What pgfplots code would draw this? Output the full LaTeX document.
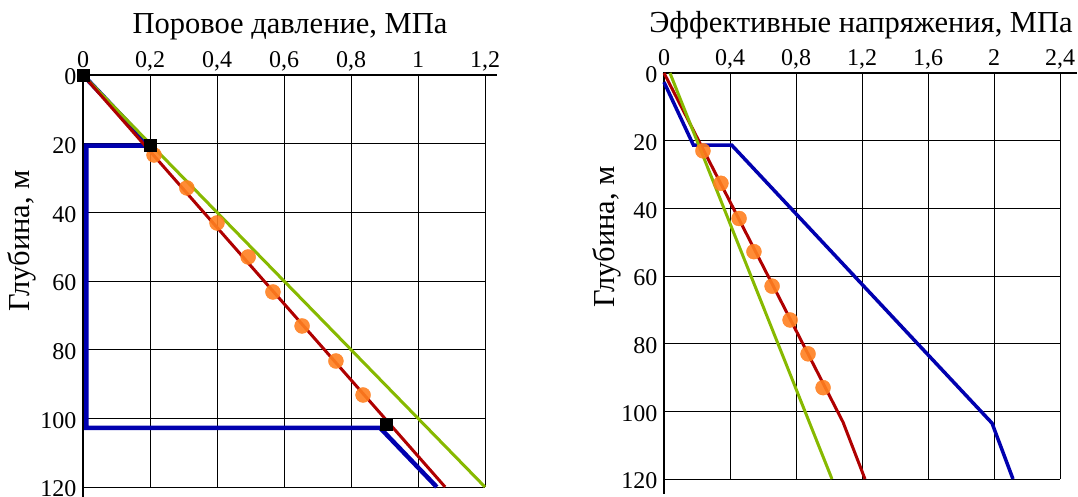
\documentclass[border=0pt]{standalone}
\usepackage{fontspec}
\setmainfont{Liberation Serif}
\usepackage{pgfplots}
\pgfplotsset{compat=1.18}
\definecolor{cblue}{RGB}{0,0,175}
\definecolor{cred}{RGB}{175,0,0}
\definecolor{cgreen}{RGB}{135,185,0}
\definecolor{corange}{RGB}{255,128,32}
\begin{document}
\begin{tikzpicture}[x=1pt,y=1pt]
\useasboundingbox (0,0) rectangle (1078,497);
\pgfplotsset{myax/.style={scale only axis, y dir=reverse, ymin=0, ymax=120,
  ytick={0,20,40,60,80,100,120}, grid=major,
  major grid style={black,line width=0.9pt},
  axis line style={draw=none}, major tick length=0pt,
  xticklabel pos=right,
  tick label style={font=\fontsize{24}{26}\selectfont},
  xticklabel style={anchor=base, yshift=7pt},
  yticklabel style={xshift=-3pt, yshift=-2pt},
  /pgf/number format/assume math mode=true,
  clip=false}}
% left
\begin{axis}[myax, at={(284pt,216pt)}, anchor=center, width=402pt, height=412pt,
  xmin=0, xmax=1.2, xtick={0,0.2,0.4,0.6,0.8,1,1.2},
  xticklabels={0,{0,2},{0,4},{0,6},{0,8},1,{1,2}}]
\draw[black,line width=1.8pt] (axis cs:0,122.9) -- (axis cs:0,0) -- (axis cs:1.235,0);
\addplot[cblue, line width=4.5pt, line join=miter] coordinates {(0,0) (0.2,20.6) (0.01,20.6) (0.01,102.8) (0.887,102.8) (1.056,120)};
\addplot[cgreen, line width=3pt] coordinates {(0,0) (1.2,120)};
\addplot[cred, line width=3pt] coordinates {(0,0) (1.081,120)};
\addplot[only marks, mark=*, mark size=7.5pt, corange, opacity=0.9, mark options={draw=none}] coordinates {
(0.212,23.3) (0.310,32.9) (0.400,43.1) (0.493,53.0) (0.567,63.2) (0.654,73.1) (0.755,83.3) (0.836,93.2)};
\addplot[only marks, mark=square*, mark size=6pt, black] coordinates {(0,0) (0.2,20.4) (0.904,101.6)};
\end{axis}
% right
\begin{axis}[myax, at={(862pt,221pt)}, anchor=center, width=396pt, height=406pt,
  xmin=0, xmax=2.4, xtick={0,0.4,0.8,1.2,1.6,2,2.4},
  xticklabels={0,{0,4},{0,8},{1,2},{1,6},2,{2,4}}]
\draw[black,line width=1.8pt] (axis cs:0,124.4) -- (axis cs:0,0) -- (axis cs:2.505,0);
\addplot[cblue, line width=3.5pt] coordinates {(0,2.7) (0.178,21.3) (0.41,21.3) (1.988,103.5) (2.115,120)};
\addplot[cred, line width=3pt] coordinates {(0,0) (1.085,103.2) (1.218,120)};
\addplot[cgreen, line width=3pt] coordinates {(0.036,0) (1.018,120)};
\addplot[only marks, mark=*, mark size=7.5pt, corange, opacity=0.9, mark options={draw=none}] coordinates {
(0.236,23.0) (0.345,32.6) (0.455,43) (0.545,52.8) (0.655,63) (0.764,73) (0.873,83) (0.964,93)};
\end{axis}
\node[font=\fontsize{30.5}{33}\selectfont] at (290,470) {Поровое давление, МПа};
\node[font=\fontsize{30.5}{33}\selectfont] at (861,472) {Эффективные напряжения, МПа};
\node[rotate=90,font=\fontsize{30.5}{33}\selectfont] at (22,256) {Глубина, м};
\node[rotate=90,font=\fontsize{30.5}{33}\selectfont] at (607,260) {Глубина, м};
\end{tikzpicture}
\end{document}
